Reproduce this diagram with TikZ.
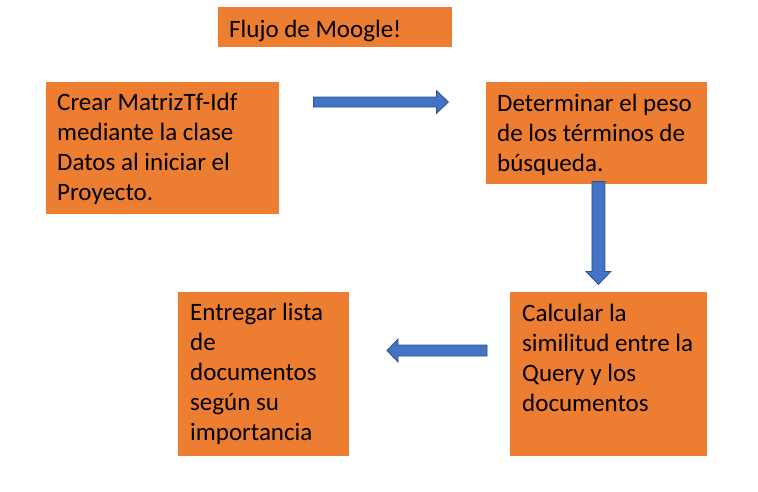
\documentclass[tikz,border=0pt]{standalone}
\usepackage{fontspec}
\setmainfont{Carlito}
\definecolor{boxorange}{HTML}{ED7D31}
\definecolor{arrowblue}{HTML}{4472C4}
\definecolor{arrowedge}{HTML}{2F528F}
\begin{document}
\begin{tikzpicture}[x=1pt,y=-1pt,
  stepbox/.style={fill=boxorange, draw=none, rectangle, inner sep=0pt, anchor=north west},
  boxtext/.style={inner sep=0pt, anchor=north west, align=left, font=\fontsize{25}{30}\selectfont, text=black},
  barrow/.style={fill=arrowblue, draw=arrowedge, line width=0.8pt, line join=miter}]
\useasboundingbox (0,0) rectangle (758,491);
% boxes
\node[stepbox, minimum width=234pt, minimum height=40pt] (title) at (218,7) {};
\node[stepbox, minimum width=233pt, minimum height=132pt] (b1) at (46,82) {};
\node[stepbox, minimum width=221pt, minimum height=102pt] (b2) at (486,82) {};
\node[stepbox, minimum width=197pt, minimum height=164pt] (b3) at (510,292) {};
\node[stepbox, minimum width=171pt, minimum height=164pt] (b4) at (178,292) {};
% texts
\node[boxtext] (t0) at ([xshift=11pt,yshift=-9pt]title.north west) {\strut Flujo de Moogle!};
\node[boxtext] (t1) at ([xshift=11pt,yshift=-7pt]b1.north west) {\strut Crear MatrizTf-Idf\\mediante la clase\\Datos al iniciar el\\Proyecto.};
\node[boxtext] (t2) at ([xshift=11pt,yshift=-8pt]b2.north west) {\strut Determinar el peso\\de los términos de\\búsqueda.};
\node[boxtext] (t3) at ([xshift=12pt,yshift=-8pt]b3.north west) {\strut Calcular la\\similitud entre la\\Query y los\\documentos};
\node[boxtext] (t4) at ([xshift=12pt,yshift=-7pt]b4.north west) {\strut Entregar lista\\de\\documentos\\según su\\importancia};
% arrow anchors
\coordinate (a1) at ([xshift=34pt,yshift=-20pt]b1.north east);
\coordinate (a2) at ([xshift=-109pt,yshift=3pt]b2.south east);
\coordinate (a3) at ([xshift=-23pt,yshift=-58.5pt]b3.north west);
% right arrow
\draw[barrow, shift={(a1)}] (0,-5) -- (123,-5) -- (123,-11.5) -- (135,0) -- (123,11.5) -- (123,5) -- (0,5) -- cycle;
% down arrow
\draw[barrow, shift={(a2)}] (-6.5,0) -- (6.5,0) -- (6.5,90) -- (12.5,90) -- (0,103) -- (-12.5,90) -- (-6.5,90) -- cycle;
% left arrow
\draw[barrow, shift={(a3)}] (0,-5.5) -- (-89,-5.5) -- (-89,-11.5) -- (-100,0) -- (-89,11.5) -- (-89,5.5) -- (0,5.5) -- cycle;
\end{tikzpicture}
\end{document}
